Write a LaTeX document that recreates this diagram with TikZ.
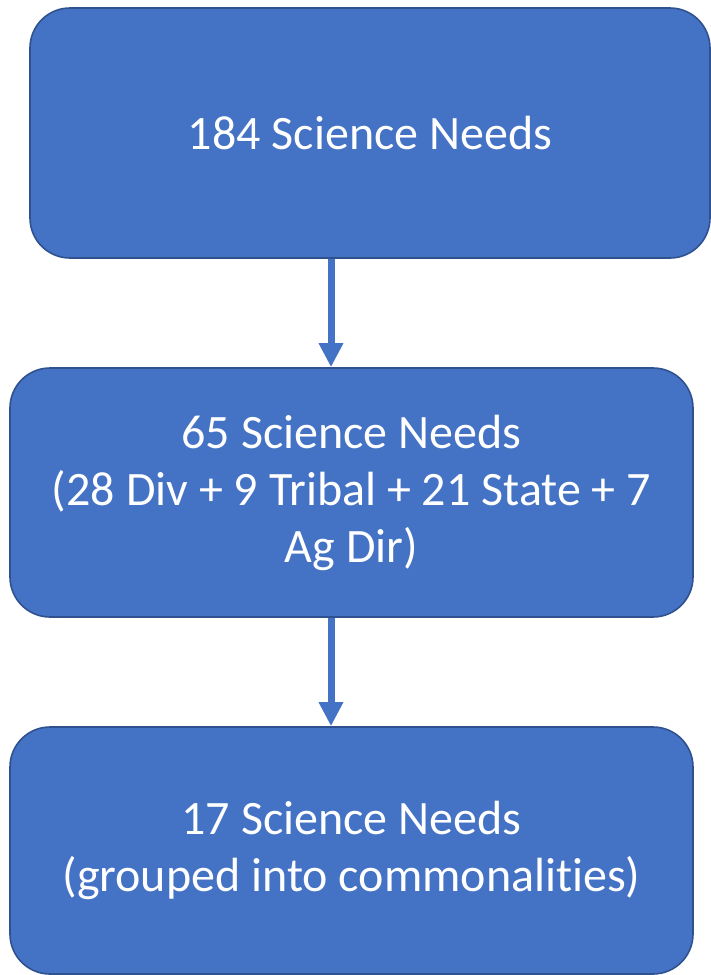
\documentclass[tikz,border=0pt]{standalone}
\usepackage{fontspec}
\setmainfont[Ligatures={NoCommon}]{Carlito}
\usetikzlibrary{arrows.meta}
\definecolor{boxfill}{HTML}{4472C4}
\definecolor{boxline}{HTML}{2F528F}
\begin{document}
\begin{tikzpicture}[x=1pt,y=-1pt,
  flowbox/.style={draw=boxline, line width=1.6pt, fill=boxfill, rounded corners=40pt,
    text=white, align=center, inner sep=0pt,
    font=\fontsize{48}{57}\selectfont},
  flowarrow/.style={draw=boxfill, line width=7pt, -{Triangle[width=23pt,length=24pt]}}]
\useasboundingbox (0,0) rectangle (711,975);
\node[flowbox, minimum width=680pt, minimum height=250pt] (b1) at (370,133) {184 Science Needs};
\node[flowbox, minimum width=683pt, minimum height=249pt] (b2) at (351.5,492.5)
  {65 Science Needs\\(28 Div + 9 Tribal + 21 State + 7\\Ag Dir)};
\node[flowbox, minimum width=683pt, minimum height=247pt] (b3) at (351.5,850.5)
  {17 Science Needs\\(grouped into commonalities)};
\coordinate (ax) at (331,0);
\draw[flowarrow] (b1.south -| ax) -- (b2.north -| ax);
\draw[flowarrow] (b2.south -| ax) -- (b3.north -| ax);
\end{tikzpicture}
\end{document}
